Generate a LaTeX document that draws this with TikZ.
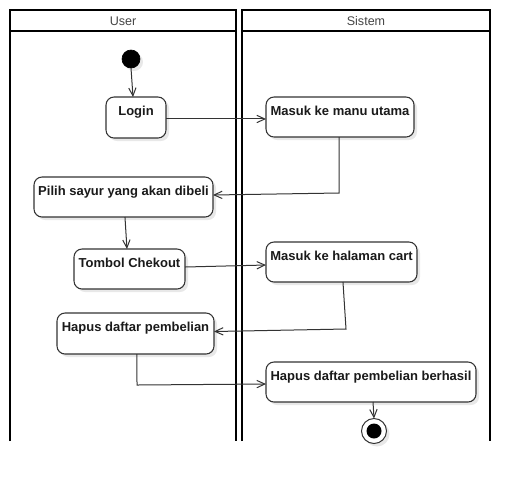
\documentclass[tikz,border=0pt]{standalone}
\usepackage{fontspec}
\setmainfont{Liberation Sans}
\usetikzlibrary{arrows.meta,shadows}
\definecolor{strokecol}{HTML}{333333}
\definecolor{headtxt}{HTML}{444444}
\definecolor{nodetxt}{HTML}{1A1A1A}
\begin{document}
\begin{tikzpicture}[x=0.75pt,y=-0.75pt,
  lane/.style={line width=1.9pt,black},
  headlabel/.style={font=\fontsize{9.4}{11}\selectfont,text=headtxt,inner sep=0pt},
  actbox/.style={draw=strokecol,line width=0.8pt,fill=white,rounded corners=6pt,
    inner sep=0pt,outer sep=0pt,
    drop shadow={shadow xshift=2.25pt,shadow yshift=-2.25pt,fill=black!9,opacity=1}},
  boxlabel/.style={font=\fontsize{9.75}{11}\selectfont\bfseries,text=nodetxt,inner sep=0pt,anchor=base,yshift=-14pt},
  flow/.style={draw=strokecol,line width=0.75pt,-{Straight Barb[length=6pt,width=5.5pt,line width=0.75pt]}},
  startnode/.style={circle,fill=black,draw=black,line width=0.5pt,minimum size=13.5pt,inner sep=0pt,outer sep=0pt,
    drop shadow={shadow xshift=2.25pt,shadow yshift=-2.25pt,fill=black!9,opacity=1}},
  endnode/.style={circle,fill=white,draw=strokecol,line width=0.75pt,minimum size=18.75pt,inner sep=0pt,outer sep=0pt,
    drop shadow={shadow xshift=2.25pt,shadow yshift=-2.25pt,fill=black!9,opacity=1}},
  enddot/.style={circle,fill=black,minimum size=11.25pt,inner sep=0pt}
]
\useasboundingbox (0,0) rectangle (530,483);

% swimlanes
\draw[lane] (10,441) -- (10,10) -- (236,10) -- (236,441);
\draw[lane] (10,31) -- (236,31);
\draw[lane] (242,441) -- (242,10) -- (490,10) -- (490,441);
\draw[lane] (242,31) -- (490,31);
\node[headlabel] (huser) at (123,21) {User};
\node[headlabel] (hsis) at (366,21) {Sistem};

% nodes
\node[startnode] (start) at (131,59) {};
\node[actbox,minimum width=45pt,minimum height=30.75pt,
  label={[boxlabel]north:Login}] (login) at (136,117.5) {};
\node[actbox,minimum width=111pt,minimum height=30pt,
  label={[boxlabel]north:Masuk ke manu utama}] (masuk) at (340,117) {};
\node[actbox,minimum width=134.25pt,minimum height=30pt,
  label={[boxlabel]north:Pilih sayur yang akan dibeli}] (pilih) at (123.5,197) {};
\node[actbox,minimum width=83.25pt,minimum height=30pt,
  label={[boxlabel]north:Tombol Chekout}] (tombol) at (129.5,269) {};
\node[actbox,minimum width=113.25pt,minimum height=30pt,
  label={[boxlabel]north:Masuk ke halaman cart}] (cart) at (341.5,262) {};
\node[actbox,minimum width=117.75pt,minimum height=30.75pt,
  label={[boxlabel]north:Hapus daftar pembelian}] (hapus) at (135.5,333.5) {};
\node[actbox,minimum width=157.5pt,minimum height=30pt,
  label={[boxlabel]north:Hapus daftar pembelian berhasil}] (berhasil) at (371,382) {};
\node[endnode] (end) at (374,431) {};
\node[enddot] (enddot) at (end.center) {};

% connectors
\draw[flow] (start.south) -- ([xshift=-2.25pt]login.north);
\draw[flow] ([yshift=-1.1pt]login.east) -- ([yshift=-1.1pt]login.east -| masuk.west);
\draw[flow] ([xshift=-0.75pt]masuk.south) -- ++(0,56) -- ([yshift=1.5pt]pilih.east);
\draw[flow] ([xshift=1.1pt]pilih.south) -- ([xshift=-1.9pt]tombol.north);
\draw[flow] ([yshift=1.5pt]tombol.east) -- ([yshift=-2.25pt]cart.west);
\draw[flow] ([xshift=1.1pt]cart.south) -- (346,329) -- ([yshift=1.5pt]hapus.east);
\draw[flow] ([xshift=1.1pt]hapus.south) -- (137,385) -- ([yshift=-1.5pt]berhasil.west);
\draw[flow] ([xshift=1.5pt]berhasil.south) -- (end.north);
\end{tikzpicture}
\end{document}
